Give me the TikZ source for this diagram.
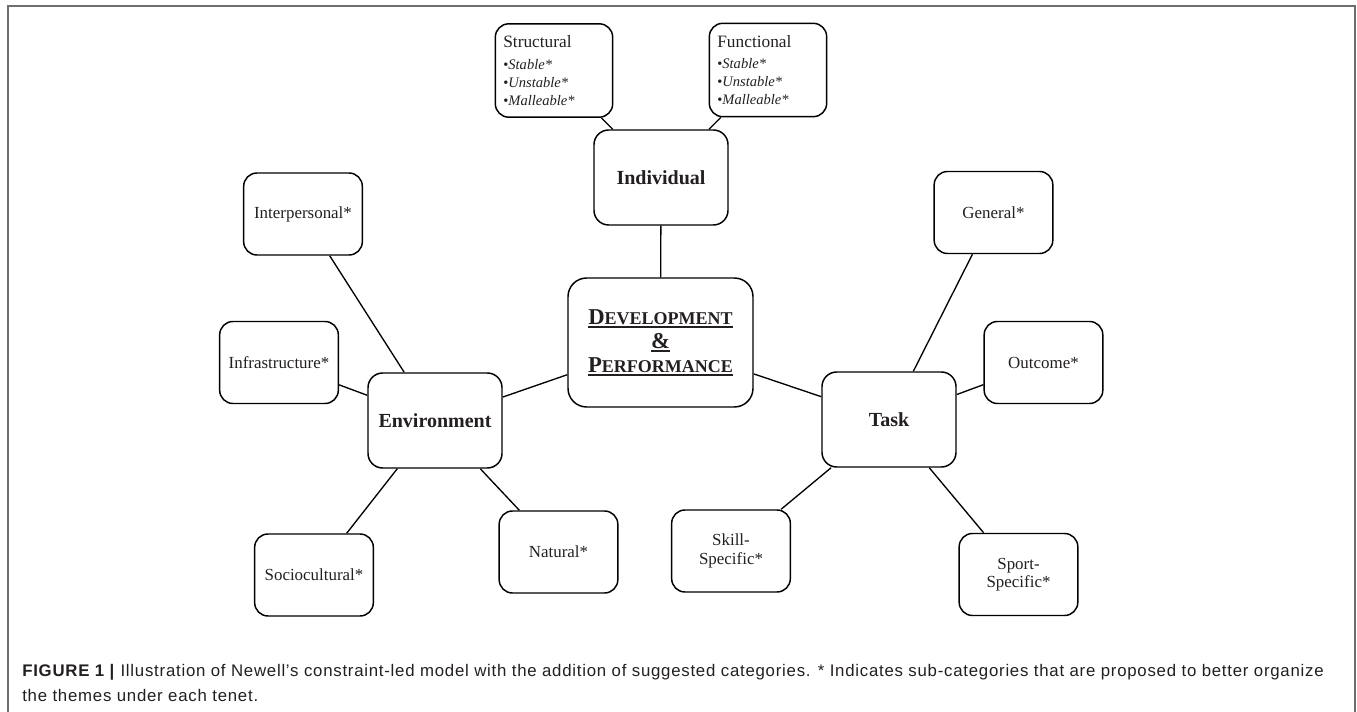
\documentclass[tikz,border=0pt]{standalone}
\usepackage{fontspec}
\setmainfont{Liberation Serif}
\newfontfamily\capfont[LetterSpace=4.5]{Liberation Sans}
\usepackage{xcolor}
\usepackage{tikz}
\usetikzlibrary{positioning}
\definecolor{inkgray}{HTML}{231F20}
\definecolor{framegray}{HTML}{6D6E71}
\newcommand{\thickul}[1]{\vtop{\hbox{#1}\kern1.3pt\hrule height 1.4pt}}
\newcommand{\initcap}[1]{{\fontsize{17}{18}\selectfont #1}}
\tikzset{
  leaf/.style={draw,rounded corners=10pt,line width=1.1pt,align=center,minimum width=89pt,minimum height=61.5pt,text=inkgray,font=\fontsize{12.7}{13.7}\selectfont},
  hub/.style={draw,rounded corners=11pt,line width=1.1pt,align=center,minimum width=100.5pt,minimum height=71.25pt,text=inkgray,font=\bfseries\fontsize{15}{18}\selectfont},
  sub/.style={draw,rounded corners=10pt,line width=1.1pt,align=left,text width=76pt,inner xsep=6pt,minimum height=70pt,text=inkgray,font=\fontsize{10.9}{13.5}\selectfont},
  core/.style={draw,rounded corners=14pt,line width=1.1pt,align=center,minimum width=138.75pt,minimum height=96.75pt,text=inkgray,font=\bfseries\fontsize{13.5}{18}\selectfont},
  link/.style={line width=1pt}
}
\begin{document}
\begin{tikzpicture}[x=0.75pt,y=-0.75pt]
\useasboundingbox (0,0) rectangle (1357,712);
\draw[framegray,line width=0.8pt] (8,730) |- (1355,6) -- (1355,730);

\node[core] (dev) at (660.5,342.5) {\thickul{\initcap{D}EVELOPMENT}\\\thickul{\initcap{\&}}\\\thickul{\initcap{P}ERFORMANCE}};

\node[hub] (indiv) at (661,177.5) {Individual};
\node[hub] (env) at (435,420.5) {Environment};
\node[hub] (task) at (889,419.5) {Task};

\node[sub] (struct) at (554,70.5) {{\fontsize{13}{13.5}\selectfont Structural}\\[2.5pt]\textbullet\textit{Stable*}\\\textbullet\textit{Unstable*}\\\textbullet\textit{Malleable*}};
\node[sub] (func) at (768,70) {{\fontsize{13}{13.5}\selectfont Functional}\\[2.5pt]\textbullet\textit{Stable*}\\\textbullet\textit{Unstable*}\\\textbullet\textit{Malleable*}};

\node[leaf] (interp) at (303,214) {Interpersonal*};
\node[leaf] (infra) at (279,362.5) {Infrastructure*};
\node[leaf] (socio) at (314,575) {Sociocultural*};
\node[leaf] (natural) at (558.5,552) {Natural*};

\node[leaf] (general) at (993.5,212.5) {General*};
\node[leaf] (outcome) at (1043.5,362.5) {Outcome*};
\node[leaf] (skill) at (731,551) {Skill-\\Specific*};
\node[leaf] (sport) at (1018.5,574.5) {Sport-\\Specific*};

\draw[link] (struct) -- (indiv);
\draw[link] (func) -- (indiv);
\draw[link] (indiv) -- (dev);
\draw[link] (env) -- (dev);
\draw[link] (task) -- (dev);
\draw[link] (interp) -- (env);
\draw[link] (infra) -- (env);
\draw[link] (socio) -- (env);
\draw[link] (natural) -- (env);
\draw[link] (general) -- (task);
\draw[link] (outcome) -- (task);
\draw[link] (skill) -- (task);
\draw[link] (sport) -- (task);

\node[anchor=north west,inner sep=0pt,align=left,text=inkgray,font=\capfont\fontsize{12.6}{18.75}\selectfont] (caption) at (22,664.5) {\textbf{FIGURE 1 |} Illustration of Newell’s constraint-led model with the addition of suggested categories. * Indicates sub-categories that are proposed to better organize\\the themes under each tenet.};
\end{tikzpicture}
\end{document}
